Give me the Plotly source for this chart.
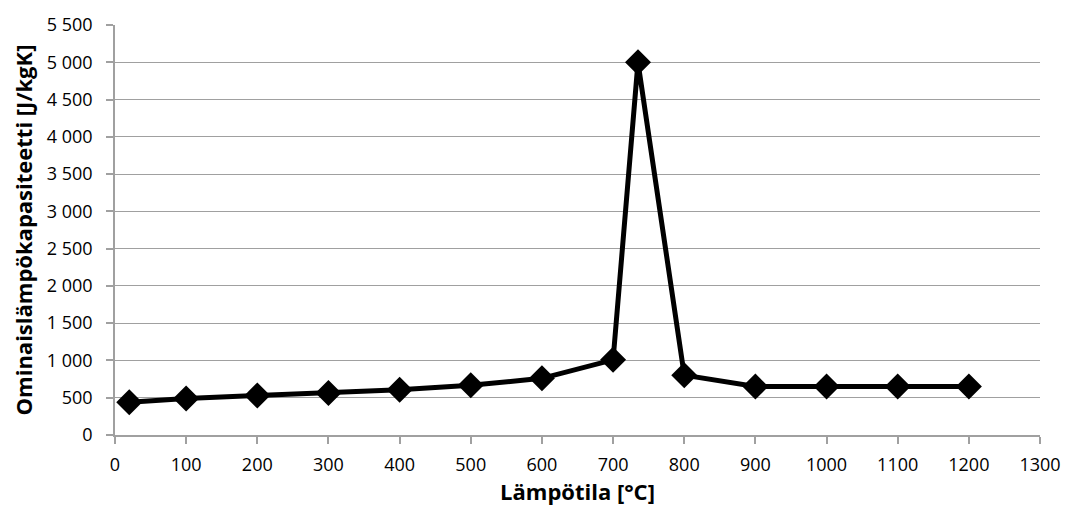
import plotly.graph_objects as go

temps = [20, 100, 200, 300, 400, 500, 600, 700, 735, 800, 900, 1000, 1100, 1200]
cp = [440, 488, 530, 565, 606, 667, 760, 1008, 5000, 803, 650, 650, 650, 650]

fig = go.Figure()
fig.add_trace(go.Scatter(
    x=temps, y=cp, mode="lines+markers",
    line=dict(color="black", width=5),
    marker=dict(symbol="diamond", size=20, color="black"),
    showlegend=False,
))

font = "Open Sans, sans-serif"
fig.update_layout(
    width=1073, height=506,
    margin=dict(l=115, r=32, t=19, b=70),
    paper_bgcolor="white", plot_bgcolor="white",
    separators=", ",
    font=dict(family=font, size=18, color="black"),
    xaxis=dict(
        range=[0, 1300], tick0=0, dtick=100, showgrid=False,
        showline=True, linecolor="#a0a0a0", linewidth=1.5,
        ticks="outside", ticklen=7, tickcolor="#a0a0a0", tickwidth=1.5,
        ticklabelstandoff=6,
        zeroline=False,
        title=dict(text="<b>Lämpötila [°C]</b>", font=dict(size=22), standoff=2),
    ),
    yaxis=dict(
        range=[0, 5500], tick0=0, dtick=500, tickformat=",d",
        showgrid=True, gridcolor="#a0a0a0", gridwidth=1.2,
        showline=True, linecolor="#a0a0a0", linewidth=1.5,
        ticks="outside", ticklen=7, tickcolor="#a0a0a0", tickwidth=1.5,
        ticklabelstandoff=10,
        zeroline=False,
        title=dict(text="<b>Ominaislämpökapasiteetti [J/kgK]</b>", font=dict(size=22), standoff=8),
    ),
)
fig.write_html("out.html")
